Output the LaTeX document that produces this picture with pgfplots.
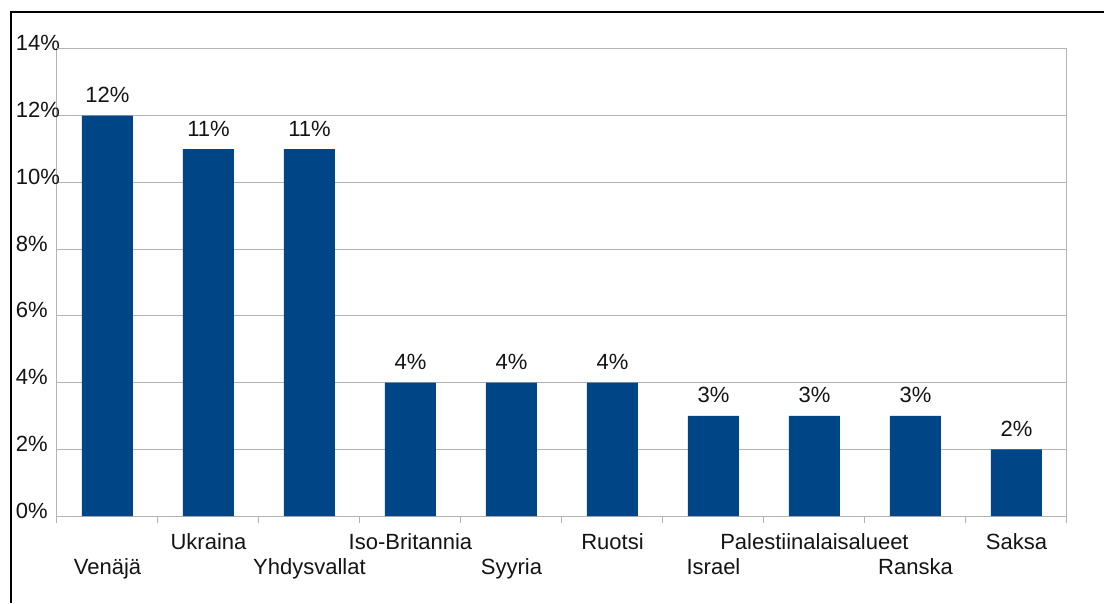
\documentclass[border=0pt]{standalone}
\usepackage{pgfplots}
\pgfplotsset{compat=1.18}
\usepackage{fontspec}
\setmainfont{Liberation Sans}
\definecolor{barblue}{RGB}{0,69,134}
\definecolor{gridgray}{RGB}{179,179,179}
\definecolor{txt}{RGB}{20,20,20}
\begin{document}
\fontsize{22pt}{26pt}\selectfont
\begin{tikzpicture}
\useasboundingbox (0,0) rectangle (1104pt,603pt);
\fill[white] (0,0) rectangle (1104pt,603pt);
\draw[line width=2.5pt] (11pt,0) -- (11pt,591pt) -- (1104pt,591pt);
\begin{axis}[
  at={(57pt,87pt)}, anchor=south west,
  scale only axis, width=1010pt, height=467pt,
  xmin=-0.5, xmax=9.5, ymin=0, ymax=14,
  /pgf/number format/assume math mode=true,
  axis line style={gridgray, line width=1pt},
  ymajorgrids, major grid style={gridgray, line width=1pt},
  ytick={0,2,...,14},
  yticklabels={0\%,2\%,4\%,6\%,8\%,10\%,12\%,14\%},
  ytick style={draw=none},
  yticklabel style={anchor=base west, inner sep=0pt, xshift=-37pt, yshift=-2pt, text=txt, font=\fontsize{22pt}{26pt}\selectfont},
  tick align=outside, tick pos=left,
  xtick={0,2,4,6,8},
  xticklabels={Venäjä,Yhdysvallat,Syyria,Israel,Ranska},
  major x tick style={draw=none},
  minor xtick={-0.5,0.5,...,9.5},
  minor tick length=7pt,
  minor x tick style={gridgray, line width=1pt},
  xticklabel style={anchor=base, inner sep=0pt, yshift=-54pt, text=txt, font=\fontsize{22pt}{26pt}\selectfont},
  extra x ticks={1,3,5,7,9},
  extra x tick labels={Ukraina,Iso-Britannia,Ruotsi,Palestiinalaisalueet,Saksa},
  extra x tick style={grid=none, major x tick style={draw=none}, xticklabel style={yshift=25pt}},
  ybar, bar width=51pt,
  nodes near coords={\pgfmathprintnumber[fixed,precision=0]{\pgfplotspointmeta}\%},
  every node near coord/.append style={anchor=base, yshift=13pt, text=txt, font=\fontsize{22pt}{26pt}\selectfont},
]
\addplot[fill=barblue, draw=none] coordinates {
  (0,12) (1,11) (2,11) (3,4) (4,4) (5,4) (6,3) (7,3) (8,3) (9,2)
};
\draw[gridgray, line width=1pt] (axis cs:-0.5,14) -- ++(0,32pt);
\end{axis}
\end{tikzpicture}
\end{document}
